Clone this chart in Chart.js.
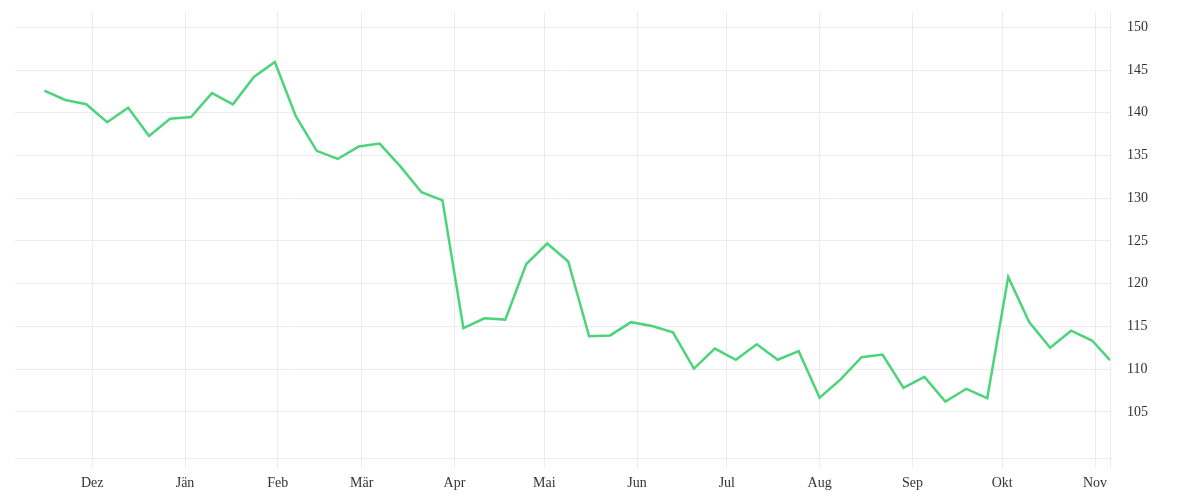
<!DOCTYPE html>
<html>
<head>
<meta charset="utf-8">
<script src="https://cdn.jsdelivr.net/npm/chart.js@4"></script>
<style>
  html, body { margin: 0; padding: 0; background: #fff; }
  #wrap { width: 1200px; height: 500px; position: relative; }
</style>
</head>
<body>
<div id="wrap"><canvas id="chart"></canvas></div>
<script>
/* ── weekly values ── */
const weekDates = [
  '2018-11-15','2018-11-22','2018-11-29','2018-12-06','2018-12-13','2018-12-20','2018-12-27',
  '2019-01-03','2019-01-10','2019-01-17','2019-01-24','2019-01-31','2019-02-07','2019-02-14',
  '2019-02-21','2019-02-28','2019-03-07','2019-03-14','2019-03-21','2019-03-28','2019-04-04',
  '2019-04-11','2019-04-18','2019-04-25','2019-05-02','2019-05-09','2019-05-16','2019-05-23',
  '2019-05-30','2019-06-06','2019-06-13','2019-06-20','2019-06-27','2019-07-04','2019-07-11',
  '2019-07-18','2019-07-25','2019-08-01','2019-08-08','2019-08-15','2019-08-22','2019-08-29',
  '2019-09-05','2019-09-12','2019-09-19','2019-09-26','2019-10-03','2019-10-10','2019-10-17',
  '2019-10-24','2019-10-31','2019-11-06'
];
const weekValues = [
  142.6, 141.5, 141.0, 138.9, 140.6, 137.3, 139.3,
  139.5, 142.3, 141.0, 144.2, 145.95, 139.6, 135.55,
  134.6, 136.05, 136.4, 133.7, 130.7, 129.75, 114.8,
  115.95, 115.8, 122.3, 124.7, 122.6, 113.85, 113.95,
  115.5, 115.05, 114.3, 110.07, 112.4, 111.1, 112.9,
  111.1, 112.1, 106.65, 108.8, 111.4, 111.7, 107.8,
  109.1, 106.2, 107.7, 106.6, 120.8, 115.5, 112.5,
  114.5, 113.35, 111.05
];
const monthDates  = ['2018-12-01','2019-01-01','2019-02-01','2019-03-01','2019-04-01','2019-05-01',
                     '2019-06-01','2019-07-01','2019-08-01','2019-09-01','2019-10-01','2019-11-01'];
const monthLabels = ['Dez','Jän','Feb','Mär','Apr','Mai','Jun','Jul','Aug','Sep','Okt','Nov'];
const yTicks = [105, 110, 115, 120, 125, 130, 135, 140, 145, 150];

const ORIGIN = Date.UTC(2018, 10, 1);
function dayNum(s) {
  const [y, m, d] = s.split('-').map(Number);
  return (Date.UTC(y, m - 1, d) - ORIGIN) / 86400000;
}

const xs = weekDates.map(dayNum);
const monthPos = monthDates.map(dayNum);
const X_MIN = 4.2;
const X_MAX = xs[xs.length - 1];

const GRID = '#ececec';
const TEXT = '#333333';
const FONT = { family: '"Liberation Serif", "DejaVu Serif", serif', size: 14 };

new Chart(document.getElementById('chart'), {
  type: 'line',
  data: {
    datasets: [{
      data: xs.map((x, i) => ({ x, y: weekValues[i] })),
      borderColor: '#4cd47b',
      borderWidth: 2.5,
      pointRadius: 0,
      tension: 0,
      fill: false
    }]
  },
  options: {
    responsive: true,
    maintainAspectRatio: false,
    animation: false,
    layout: { padding: { left: 15, top: 12, right: 0, bottom: 0 } },
    plugins: { legend: { display: false }, tooltip: { enabled: false } },
    scales: {
      x: {
        type: 'linear',
        min: X_MIN,
        max: X_MAX,
        afterBuildTicks: axis => {
          axis.ticks = monthPos.map(v => ({ value: v })).concat([{ value: X_MAX }]);
        },
        afterFit: axis => {
          axis.height = 42;
          axis.paddingLeft = 0;
          axis.paddingRight = 0;
        },
        ticks: {
          autoSkip: false,
          maxRotation: 0,
          padding: 7,
          color: TEXT,
          font: FONT,
          callback: (v, i) => monthLabels[i] || ''
        },
        grid: { color: GRID, lineWidth: 1, drawTicks: true, tickLength: 10 },
        border: { display: true, color: GRID }
      },
      y: {
        position: 'right',
        min: 99.6,
        max: 151.8,
        afterBuildTicks: axis => {
          axis.ticks = yTicks.map(v => ({ value: v }));
        },
        afterFit: axis => {
          axis.width = 90;
          axis.paddingTop = 0;
          axis.paddingBottom = 0;
        },
        ticks: { padding: 17, color: TEXT, font: FONT },
        grid: { color: GRID, lineWidth: 1, drawTicks: false },
        border: { display: false }
      }
    }
  }
});
</script>
</body>
</html>
